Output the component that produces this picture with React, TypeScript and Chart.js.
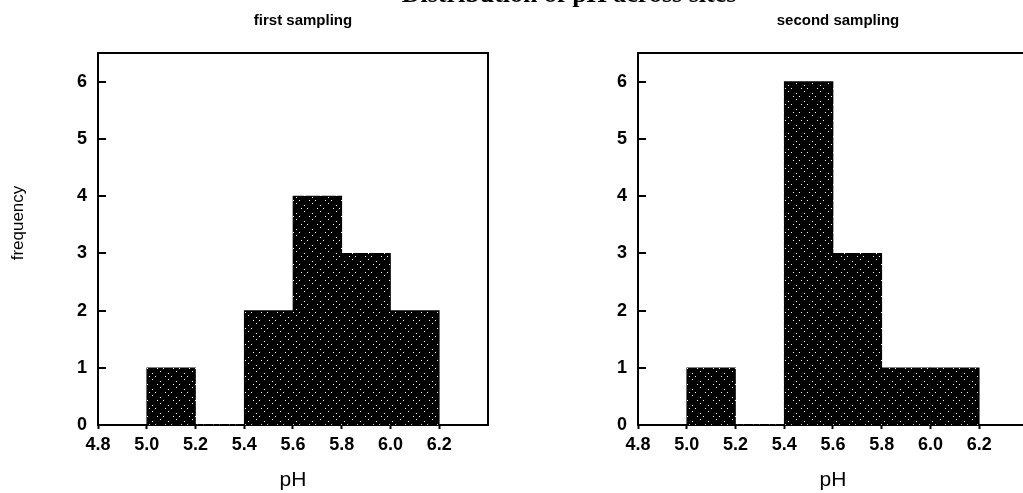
import React, { useEffect, useRef } from "react";
import { Chart, registerables } from "chart.js";

Chart.register(...registerables);

const mainTitle = "Distribution of pH across sites";
const subtitles = ["first sampling", "second sampling"];
const xAxisTitle = "pH";
const yAxisTitle = "frequency";
const binCenters = [5.1, 5.3, 5.5, 5.7, 5.9, 6.1];
const firstSampling = [1, 0, 2, 4, 3, 2];
const secondSampling = [1, 0, 6, 3, 1, 1];
const xTickValues = [4.8, 5.0, 5.2, 5.4, 5.6, 5.8, 6.0, 6.2];
const yTickValues = [0, 1, 2, 3, 4, 5, 6];

function makePattern(): CanvasPattern | string {
  const c = document.createElement("canvas");
  c.width = 16;
  c.height = 16;
  const g = c.getContext("2d");
  if (!g) return "#000";
  g.fillStyle = "#000";
  g.fillRect(0, 0, 16, 16);
  g.fillStyle = "#fff";
  const dots = [
    [8, 5], [5, 8], [11, 8], [8, 11],
    [0, 13], [13, 0], [3, 0], [0, 3],
  ];
  dots.forEach(([x, y]) => g.fillRect(x, y, 1, 1));
  return g.createPattern(c, "repeat") || "#000";
}

const framePlugin = {
  id: "frame",
  afterDraw(chart: any, _args: any, opts: any) {
    const { ctx, chartArea } = chart;
    const { left, top, right, bottom } = chartArea;
    const y = chart.scales.y;
    ctx.save();
    ctx.strokeStyle = "#000";
    ctx.lineWidth = 2;
    y.ticks.forEach((t: any) => {
      const py = Math.round(y.getPixelForValue(t.value));
      ctx.beginPath();
      ctx.moveTo(left, py);
      ctx.lineTo(left + 8, py);
      ctx.stroke();
    });
    ctx.beginPath();
    ctx.moveTo(left, top);
    ctx.lineTo(right, top);
    ctx.lineTo(right, bottom);
    ctx.stroke();
    ctx.fillStyle = "#000";
    ctx.font = "bold 15px 'Liberation Sans', Arial, sans-serif";
    ctx.textAlign = "center";
    ctx.textBaseline = "middle";
    ctx.fillText(opts.text, (left + right) / 2 + (opts.dx || 0), 21);
    if (opts.yTitle) {
      ctx.font = "17px 'Liberation Sans', Arial, sans-serif";
      ctx.translate(18, 223);
      ctx.rotate(-Math.PI / 2);
      ctx.fillText(opts.yTitle, 0, 0);
    }
    ctx.restore();
  },
};

function Histogram(props: { values: number[]; subtitle: string; showY: boolean; dx: number; left: number }) {
  const ref = useRef<HTMLCanvasElement>(null);
  useEffect(() => {
    if (!ref.current) return;
    const tickFont = { family: "'Liberation Sans', Arial, sans-serif", size: 18, weight: "bold" as const };
    const chart = new Chart(ref.current, {
      type: "bar",
      data: {
        datasets: [
          {
            data: binCenters.map((x, i) => ({ x, y: props.values[i] })),
            backgroundColor: makePattern() as any,
            borderWidth: 0,
            barPercentage: 1,
            categoryPercentage: 1,
          },
        ],
      },
      options: {
        responsive: false,
        animation: false,
        events: [],
        layout: { padding: { top: 53, right: 12, left: 0, bottom: 0 } },
        plugins: {
          legend: { display: false },
          tooltip: { enabled: false },
          frame: { text: props.subtitle, dx: props.dx, yTitle: props.showY ? yAxisTitle : "" },
        } as any,
        scales: {
          x: {
            type: "linear",
            min: 4.8,
            max: 6.4,
            offset: false,
            afterBuildTicks: (s: any) => {
              s.ticks = xTickValues.map((v) => ({ value: v }));
            },
            afterFit: (s: any) => {
              s.height = 68;
            },
            ticks: {
              stepSize: 0.2,
              color: "#000",
              font: tickFont,
              padding: 5,
              maxRotation: 0,
              autoSkip: false,
              callback: (v: any) => Number(v).toFixed(1),
            },
            grid: { drawOnChartArea: false, offset: false, color: "#000", tickLength: 4, tickWidth: 2 },
            border: { color: "#000", width: 2 },
            title: {
              display: true,
              text: xAxisTitle,
              color: "#000",
              font: { family: "'Liberation Sans', Arial, sans-serif", size: 21 },
              padding: { top: 0, bottom: 0 },
            },
          },
          y: {
            min: 0,
            max: 6.5,
            afterBuildTicks: (s: any) => {
              s.ticks = yTickValues.map((v) => ({ value: v }));
            },
            afterFit: (s: any) => {
              s.width = 98;
            },
            ticks: { color: "#000", font: tickFont, padding: 11, stepSize: 1 },
            grid: { drawOnChartArea: false, drawTicks: false, color: "#000" },
            border: { color: "#000", width: 2 },
          },
        },
      },
      plugins: [framePlugin],
    });
    return () => chart.destroy();
  }, []);
  return (
    <canvas
      ref={ref}
      width={500}
      height={493}
      style={{ position: "absolute", left: props.left, top: 0, width: 500, height: 493 }}
    />
  );
}

export default function App() {
  return (
    <div
      style={{
        position: "absolute",
        left: 0,
        top: 0,
        width: 1023,
        height: 493,
        overflow: "hidden",
        background: "#fff",
      }}
    >
      <Histogram values={firstSampling} subtitle={subtitles[0]} showY={true} dx={10} left={0} />
      <Histogram values={secondSampling} subtitle={subtitles[1]} showY={false} dx={5} left={540} />
      <div
        style={{
          position: "absolute",
          left: 369,
          width: 400,
          top: -19,
          textAlign: "center",
          fontFamily: "'Liberation Serif', 'Times New Roman', serif",
          fontWeight: "bold",
          fontSize: 26,
          lineHeight: "26px",
          whiteSpace: "nowrap",
        }}
      >
        {mainTitle}
      </div>
    </div>
  );
}
